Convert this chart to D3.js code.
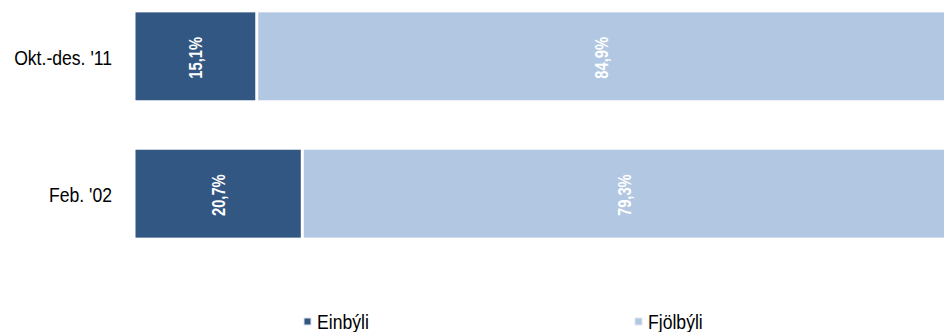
<!DOCTYPE html>
<html>
<head>
<meta charset="utf-8">
<script src="https://cdn.jsdelivr.net/npm/d3@7"></script>
<style>
  body { margin: 0; background: #fff; }
  svg { display: block; }
</style>
</head>
<body>
<div id="chart-container"></div>
<script>
// chart data
const categories = ["Okt.-des. '11", "Feb. '02"];
const seriesNames = ["Einbýli", "Fjölbýli"];
const einbyli = [15.1, 20.7];
const fjolbyli = [84.9, 79.3];
const colors = ["#335783", "#b1c7e2"];

const width = 944, height = 332;
const margin = { top: 0, right: -3, bottom: 82, left: 134 };
const fontFamily = "'Liberation Sans', Arial, sans-serif";
// original uses a condensed face, so squeeze the text horizontally
const narrow = "scale(0.88,1)";
const narrowBold = "scale(0.82,1)";

const svg = d3.select("#chart-container")
  .append("svg")
  .attr("width", width)
  .attr("height", height);

// scales
const xScale = d3.scaleLinear().domain([0, 100]).range([margin.left, width - margin.right]);
const yScale = d3.scaleBand()
  .domain(categories)
  .range([margin.top, height - margin.bottom])
  .paddingInner(0.36)
  .paddingOuter(0.09);

// build stacked rows
const rows = categories.map((c, i) => ({ cat: c, "Einbýli": einbyli[i], "Fjölbýli": fjolbyli[i] }));
const stacked = d3.stack().keys(seriesNames)(rows);

const gap = 1.5; // white separation between segments

const layers = svg.selectAll("g.layer")
  .data(stacked)
  .join("g")
  .attr("class", "layer")
  .attr("fill", (d, i) => colors[i]);

layers.selectAll("rect")
  .data(d => d)
  .join("rect")
  .attr("x", d => xScale(d[0]) + gap)
  .attr("y", d => yScale(d.data.cat))
  .attr("width", d => xScale(d[1]) - xScale(d[0]) - 2 * gap)
  .attr("height", yScale.bandwidth());

// value labels, rotated
layers.selectAll("text")
  .data(d => d.map(v => ({ v, key: d.key })))
  .join("text")
  .attr("transform", d => {
    const cx = (xScale(d.v[0]) + xScale(d.v[1])) / 2;
    const cy = yScale(d.v.data.cat) + yScale.bandwidth() / 2 + 1.5;
    return `translate(${cx},${cy}) rotate(-90) ${narrowBold}`;
  })
  .attr("text-anchor", "middle")
  .attr("dy", "0.36em")
  .style("font-family", fontFamily)
  .style("font-weight", "bold")
  .style("font-size", "18px")
  .style("fill", "#fff")
  .text(d => d3.format(".1f")(d.v[1] - d.v[0]).replace(".", ",") + "%");

// category axis
const yAxis = svg.append("g")
  .attr("transform", `translate(${margin.left - 22},0)`)
  .call(d3.axisLeft(yScale).tickSize(0).tickPadding(0));
yAxis.select(".domain").remove();
yAxis.selectAll(".tick text")
  .attr("x", 0)
  .attr("dy", "0.43em")
  .attr("transform", narrow)
  .style("font-family", fontFamily)
  .style("font-size", "20px")
  .style("fill", "#000");

// legend
const legendX = d3.scalePoint().domain(seriesNames).range([304, 635]);
const legend = svg.selectAll("g.legend")
  .data(seriesNames)
  .join("g")
  .attr("class", "legend")
  .attr("transform", d => `translate(${legendX(d)},318)`);

legend.append("rect")
  .attr("width", 7)
  .attr("height", 7)
  .attr("fill", (d, i) => colors[i])
  .attr("stroke", "#dde6f0")
  .attr("stroke-width", 1);

legend.append("text")
  .attr("transform", `translate(13,11) ${narrow}`)
  .style("font-family", fontFamily)
  .style("font-size", "20px")
  .style("fill", "#000")
  .text(d => d);
</script>
</body>
</html>
